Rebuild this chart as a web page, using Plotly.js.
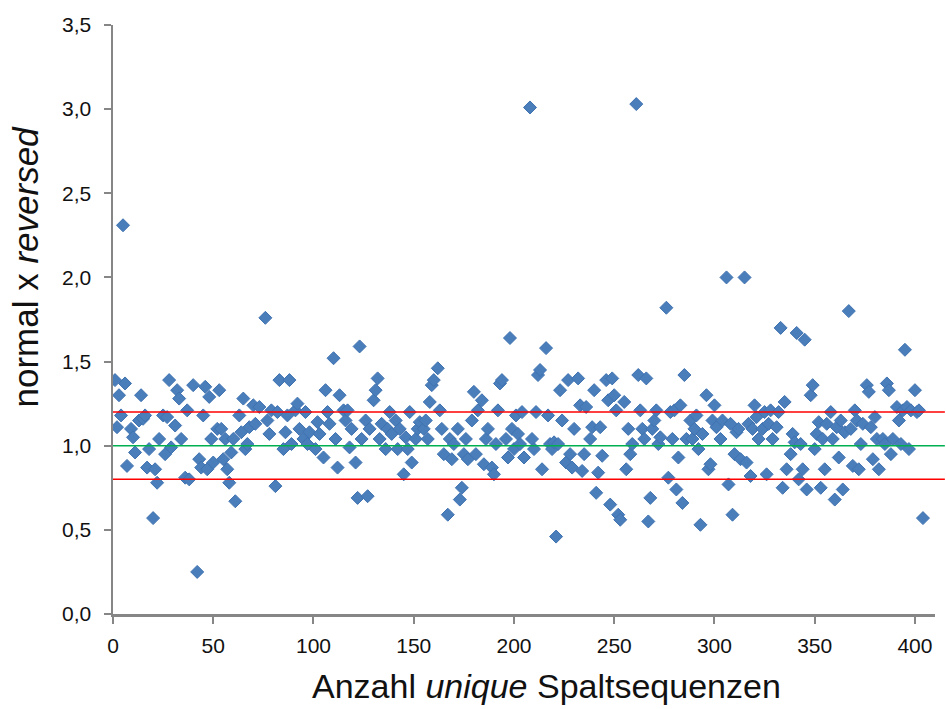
<!DOCTYPE html>
<html>
<head>
<meta charset="utf-8">
<script src="https://cdn.plot.ly/plotly-3.0.1.min.js"></script>
<style>html,body{margin:0;padding:0;background:#fff;}#chart{width:946px;height:709px;}</style>
</head>
<body>
<div id="chart"></div>
<script>
// Index of unique split sequence (x) and ratio normal x reversed (y)
const xIndex = [
1,2,3,4,5,6,7,9,10,11,13,14,15,16,17,18,20,21,22,23,25,26,27,28,29,31,32,33,34,36,37,38,40,42,43,44,45,46,47,48,49,50,
52,53,54,55,56,57,58,59,60,61,63,64,65,66,67,68,70,71,73,76,77,78,79,81,82,83,85,86,87,88,89,91,92,93,95,96,97,98,
101,102,103,105,106,107,108,110,111,112,113,115,116,117,118,119,121,122,123,124,126,127,128,130,131,132,133,134,136,137,138,139,141,142,143,145,146,147,148,149,
151,152,153,155,156,157,158,159,160,162,163,164,165,167,168,169,170,172,173,174,175,176,177,179,180,181,182,184,185,186,187,189,190,191,192,193,194,196,197,198,199,200,
201,202,203,204,205,208,209,210,211,212,213,214,216,217,218,219,220,221,222,223,224,226,227,228,229,230,232,233,234,235,236,238,239,240,241,242,243,244,246,247,248,249,
250,251,252,253,255,256,257,258,259,261,262,263,264,265,266,267,268,269,270,271,272,273,276,277,278,279,280,281,282,283,284,285,286,288,289,290,291,292,293,294,296,297,298,299,
300,301,303,304,306,307,308,309,310,311,312,313,315,316,317,318,319,320,321,322,324,325,326,327,328,329,331,332,333,334,335,336,338,339,340,341,342,343,344,345,346,348,349,350,
351,352,353,354,355,356,358,359,360,361,362,363,364,365,367,368,369,370,371,372,373,374,376,377,378,379,380,381,382,384,385,386,387,388,389,391,392,393,394,395,396,397,398,400,401,402,404
];
const ratio = [
1.39,1.11,1.30,1.18,2.31,1.37,0.88,1.10,1.05,0.96,1.15,1.30,1.16,1.18,0.87,0.98,0.57,0.86,0.78,1.04,1.18,0.95,1.17,1.39,0.99,1.12,1.33,1.28,1.04,0.81,1.21,0.80,1.36,0.25,0.92,0.87,1.18,1.35,0.86,1.29,1.04,0.90,
1.10,1.33,1.10,0.92,1.04,0.86,0.78,0.96,1.04,0.67,1.18,1.08,1.28,0.98,1.01,1.11,1.24,1.13,1.23,1.76,1.15,1.07,1.21,0.76,1.20,1.39,0.98,1.08,1.18,1.39,1.01,1.21,1.25,1.10,1.04,1.20,1.01,1.08,
0.98,1.14,1.07,0.93,1.33,1.20,1.13,1.52,1.04,0.87,1.30,1.21,1.15,1.21,0.99,1.10,0.90,0.69,1.59,1.04,1.15,0.70,1.10,1.27,1.33,1.40,1.04,1.13,0.98,1.10,1.20,1.07,1.15,0.98,1.10,0.83,1.05,0.98,1.20,0.90,
1.04,1.10,1.14,1.10,1.15,1.04,1.26,1.36,1.39,1.46,1.21,1.10,0.95,0.59,1.04,0.92,1.01,1.10,0.68,0.75,0.95,1.04,0.92,1.15,1.32,0.95,1.21,1.27,0.89,1.04,1.10,0.87,0.83,1.01,1.21,1.37,1.39,1.04,0.93,1.64,1.10,0.98,
1.18,1.07,1.01,1.20,0.93,3.01,1.04,0.98,1.20,1.42,1.45,0.86,1.58,1.18,1.01,0.98,1.02,0.46,1.01,1.33,1.15,0.90,1.39,0.95,0.87,1.10,1.40,1.24,0.85,0.95,1.23,1.04,1.11,1.33,0.72,0.84,1.11,0.94,1.39,1.27,0.65,1.40,
1.30,1.21,0.59,0.56,1.26,0.86,1.10,0.95,1.01,3.03,1.42,1.21,1.10,1.04,1.40,0.55,0.69,1.10,1.15,1.21,1.01,1.05,1.82,0.81,1.20,1.04,1.21,0.74,0.93,1.24,0.66,1.42,1.04,1.15,1.04,1.10,1.18,0.98,0.53,1.07,1.30,0.86,0.89,1.15,
1.24,1.11,1.04,1.15,2.00,0.77,1.13,0.59,0.95,1.08,1.10,0.92,2.00,0.90,1.13,0.82,1.10,1.24,1.17,1.04,1.10,1.20,0.83,1.13,1.21,1.04,1.11,1.20,1.70,0.75,1.26,0.86,0.95,1.07,1.02,1.67,0.80,1.01,0.86,1.63,0.74,1.30,1.36,0.98,
1.07,1.14,0.75,1.04,0.86,1.13,1.20,1.04,0.68,1.11,0.93,1.15,0.74,1.08,1.80,1.10,0.88,1.21,1.15,0.86,1.01,1.13,1.36,1.32,1.11,0.92,1.17,1.04,0.86,1.04,1.01,1.37,1.33,0.95,1.04,1.23,1.15,1.01,1.21,1.57,1.23,0.98,1.21,1.33,1.20,1.21,0.57
];
const refMean = [1.0];
const refBounds = [0.8, 1.2];
const xTicks = [0,50,100,150,200,250,300,350,400];
const yTicks = [0,0.5,1.0,1.5,2.0,2.5,3.0,3.5];
const xTitle = 'Anzahl <i>unique</i> Spaltsequenzen';
const yTitle = 'normal x <i>reversed</i>';

const FONT = 'Liberation Sans, Arial, sans-serif';

const traces = [{
  type: 'scatter', mode: 'markers', x: xIndex, y: ratio,
  marker: {symbol: 'diamond', size: 10, color: '#4A7EBB', line: {color: '#3F72B0', width: 1}},
  hoverinfo: 'x+y', showlegend: false
}];

const shapes = [];
refBounds.forEach(v => shapes.push({type:'line', xref:'paper', x0:0, x1:1.012, yref:'y', y0:v, y1:v, line:{color:'#FF0000', width:1.5}, layer:'above'}));
refMean.forEach(v => shapes.push({type:'line', xref:'paper', x0:0, x1:1.012, yref:'y', y0:v, y1:v, line:{color:'#00B050', width:1.5}, layer:'above'}));

const axisCommon = {
  showgrid: false, zeroline: false, showline: true, linecolor: '#868686', linewidth: 2.5,
  ticks: 'outside', tickcolor: '#868686', tickwidth: 2, ticklen: 7,
  tickfont: {family: FONT, size: 21, color: '#111'}
};

const layout = {
  width: 946, height: 709,
  margin: {l: 113, r: 11, t: 25, b: 95},
  paper_bgcolor: '#fff', plot_bgcolor: '#fff',
  separators: ',.',
  xaxis: Object.assign({}, axisCommon, {
    range: [0, 410], tickvals: xTicks, ticktext: xTicks.map(String),
    ticklabelstandoff: 4
  }),
  yaxis: Object.assign({}, axisCommon, {
    range: [0, 3.5], tickvals: yTicks, tickformat: '.1f',
    ticklabelstandoff: 8
  }),
  annotations: [
    {text: xTitle, xref: 'paper', yref: 'paper', x: 0.527, y: -0.122, xanchor: 'center', yanchor: 'middle',
     showarrow: false, font: {family: FONT, size: 34, color: '#111'}},
    {text: yTitle, xref: 'paper', yref: 'paper', x: -0.107, y: 0.59, xanchor: 'center', yanchor: 'middle',
     textangle: -90, showarrow: false, font: {family: FONT, size: 35, color: '#111'}}
  ],
  shapes: shapes
};

Plotly.newPlot('chart', traces, layout, {displayModeBar: false, staticPlot: true});
</script>
</body>
</html>
